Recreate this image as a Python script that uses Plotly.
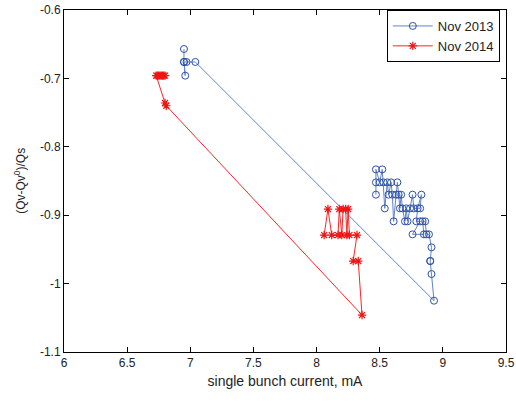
import plotly.graph_objects as go

# Nov 2013 series
x2013 = [6.95, 6.95, 6.96, 6.95, 6.97, 7.04, 8.93, 8.91, 8.90, 8.90, 8.91, 8.89, 8.87, 8.86,
         8.84, 8.85, 8.76, 8.82, 8.79, 8.80, 8.83, 8.82, 8.77, 8.76, 8.74, 8.72, 8.71, 8.70,
         8.68, 8.67, 8.66, 8.65, 8.64, 8.63, 8.61, 8.60, 8.59, 8.57, 8.56, 8.54, 8.53, 8.52,
         8.50, 8.47, 8.47, 8.47]
y2013 = [-0.657, -0.676, -0.696, -0.676, -0.676, -0.676, -1.025, -0.986, -0.967, -0.967,
         -0.947, -0.928, -0.928, -0.909, -0.909, -0.928, -0.928, -0.909, -0.909, -0.890,
         -0.870, -0.890, -0.890, -0.870, -0.890, -0.909, -0.890, -0.909, -0.890, -0.870,
         -0.890, -0.870, -0.852, -0.870, -0.909, -0.870, -0.852, -0.870, -0.852, -0.890,
         -0.852, -0.833, -0.852, -0.833, -0.852, -0.870]

# Nov 2014 series
x2014 = [6.80, 6.79, 6.78, 6.77, 6.76, 6.75, 6.74, 6.73, 6.80, 6.81, 8.36, 8.33, 8.29,
         8.32, 8.26, 8.25, 8.24, 8.23, 8.21, 8.20, 8.18, 8.17, 8.12, 8.09, 8.06]
y2014 = [-0.696, -0.696, -0.696, -0.696, -0.696, -0.696, -0.696, -0.696, -0.736, -0.740,
         -1.046, -0.967, -0.967, -0.929, -0.929, -0.891, -0.929, -0.891, -0.891, -0.929,
         -0.891, -0.929, -0.929, -0.891, -0.929]

xticks = [6, 6.5, 7, 7.5, 8, 8.5, 9, 9.5]
xticklabels = ["6", "6.5", "7", "7.5", "8", "8.5", "9", "9.5"]
yticks = [-1.1, -1.0, -0.9, -0.8, -0.7, -0.6]
yticklabels = ["-1.1", "-1", "-0.9", "-0.8", "-0.7", "-0.6"]

fig = go.Figure()
fig.add_trace(go.Scatter(
    x=x2013, y=y2013, mode="lines+markers", name="Nov 2013",
    line=dict(color="rgb(100,130,200)", width=1),
    marker=dict(symbol="circle-open", size=7, color="rgb(45,80,170)", line=dict(width=1))))
fig.add_trace(go.Scatter(
    x=x2014, y=y2014, mode="lines+markers", name="Nov 2014",
    line=dict(color="rgb(245,40,40)", width=1),
    marker=dict(symbol="asterisk-open", size=7, color="rgb(240,20,20)", line=dict(width=1.2))))

axis_common = dict(showline=True, linecolor="black", linewidth=1, mirror="ticks",
                   ticks="inside", ticklen=5, tickcolor="black", showgrid=False,
                   zeroline=False, automargin=False,
                   tickfont=dict(family="Liberation Sans", size=12, color="#222"))
fig.update_layout(
    width=516, height=403,
    margin=dict(l=64, r=10, t=10, b=51),
    paper_bgcolor="white", plot_bgcolor="white",
    font=dict(family="Liberation Sans", size=12, color="#222"),
    xaxis=dict(range=[6, 9.5], tickvals=xticks, ticktext=xticklabels,
               title=dict(text="single bunch current, mA", standoff=6), **axis_common),
    yaxis=dict(range=[-1.1, -0.6], tickvals=yticks, ticktext=yticklabels, **axis_common),
    legend=dict(x=0.986, y=1, xanchor="right", yanchor="top", bordercolor="black",
                borderwidth=1, bgcolor="white", font=dict(size=13, color="#222"),
                tracegroupgap=2, itemwidth=40),
    showlegend=True,
    annotations=[dict(text="(Qv-Qv<sup>0</sup>)/Qs", xref="paper", yref="paper",
                      x=-0.1, y=0.5, xanchor="center", yanchor="middle", textangle=-90,
                      showarrow=False, font=dict(size=12, color="#222"))],
)
fig.write_html("out.html")
